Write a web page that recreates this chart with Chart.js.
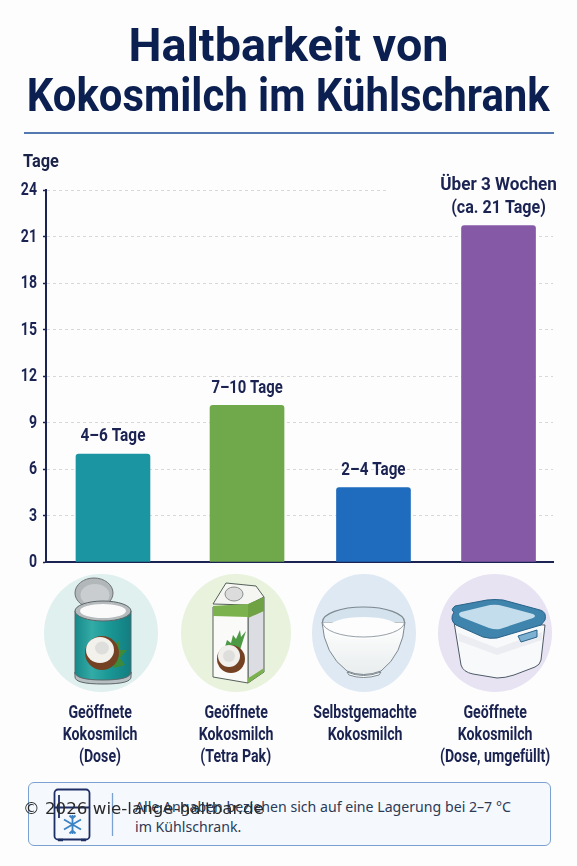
<!DOCTYPE html>
<html lang="de"><head><meta charset="utf-8">
<script src="https://cdn.jsdelivr.net/npm/chart.js@4"></script>
<style>
html,body{margin:0;padding:0;background:#fdfdfe;overflow:hidden}
#stage{position:relative;width:577px;height:866px;overflow:hidden}
canvas{position:absolute;left:0;top:0}
h1{position:absolute;margin:0;left:0;width:577px;text-align:center;font:700 46px/54px Roboto,sans-serif;color:#0b2050;white-space:nowrap}
h1 span{display:inline-block}
#rule{position:absolute;left:24px;top:132px;width:530px;height:2px;background:#5478b0}
#tage{position:absolute;left:23px;top:150px;font:700 19px/22px Roboto,sans-serif;color:#1b2448;transform:scaleX(.86);transform-origin:left top}
.cat{position:absolute;top:701px;width:170px;text-align:center;font:700 17.5px/22px Roboto,sans-serif;color:#1a2350}
.cat span{display:inline-block;transform:scaleX(.81);white-space:nowrap}
#note{position:absolute;left:28px;top:782px;width:523px;height:64px;border:1.3px solid #7aa1cf;border-radius:6px;background:#f5f8fd;box-sizing:border-box}
#noteText{position:absolute;left:135px;top:797px;font:400 14.15px/19.5px "Noto Sans",sans-serif;color:#2c3a56;white-space:pre}
#copy{position:absolute;left:23px;top:797px;font:400 16.7px/22px "DejaVu Sans",sans-serif;color:#2a2a2a;white-space:nowrap}
svg{position:absolute;left:0;top:0}
</style></head><body>
<div id="stage">
<canvas id="c" width="577" height="866"></canvas>
<h1 style="top:18px"><span id="l1">Haltbarkeit von</span></h1>
<h1 style="top:68px"><span id="l2">Kokosmilch im Kühlschrank</span></h1>
<div id="rule"></div>
<div id="tage">Tage</div>
<div id="note"></div>
<svg width="577" height="866" viewBox="0 0 577 866">
 <defs>
  <linearGradient id="tin" x1="0" x2="1" y1="0" y2="0"><stop offset="0" stop-color="#17888a"/><stop offset=".3" stop-color="#33aba6"/><stop offset=".6" stop-color="#1a9896"/><stop offset="1" stop-color="#137d80"/></linearGradient>
  <linearGradient id="bowl" x1="0" x2="0" y1="0" y2="1"><stop offset="0" stop-color="#ffffff"/><stop offset="1" stop-color="#e9edee"/></linearGradient>
 </defs>
 <ellipse cx="101" cy="633" rx="57" ry="59" fill="#dff0ee"/>
 <ellipse cx="236" cy="633" rx="55" ry="59" fill="#e8f2dc"/>
 <ellipse cx="364" cy="633" rx="52" ry="59" fill="#dfe9f3"/>
 <ellipse cx="495" cy="633" rx="57" ry="59" fill="#e7e3f2"/>
 <!-- can -->
 <ellipse cx="94" cy="593" rx="19" ry="15" fill="#b2b7ba" stroke="#6d7275"/>
 <ellipse cx="95" cy="595" rx="14.5" ry="11" fill="#c9cdcf"/>
 <path d="M75 611V673Q75 682 103 682T131 673V611Z" fill="url(#tin)" stroke="#4f6b70"/>
 <path d="M75 672Q75 680 103 680T131 672V677Q131 684 103 684T75 677Z" fill="#b8bfc2" stroke="#5c6669"/>
 <ellipse cx="103" cy="611" rx="28" ry="10" fill="#b5babd" stroke="#5c6669"/>
 <ellipse cx="103" cy="611" rx="23" ry="7" fill="#fafafa"/>
 <path d="M112 646L120 640L119 650L127 650L120 658L125 665L114 668Z" fill="#3d8a3a"/>
 <ellipse cx="102" cy="653" rx="17" ry="17" fill="#744223"/>
 <ellipse cx="100" cy="650" rx="14" ry="13" fill="#f2f1ec"/>
 <ellipse cx="102" cy="648" rx="7" ry="6.5" fill="#dedfdc"/>
 <!-- carton -->
 <path d="M248 605L264 597V672L248 683Z" fill="#dcdde2" stroke="#55605a"/>
 <path d="M213 607L248 605V683L213 677Z" fill="#fafaf8" stroke="#55605a"/>
 <path d="M213 604L226 583L256 586L264 597L248 605Z" fill="#f5f5f2" stroke="#55605a"/>
 <path d="M213 606L248 604V617L213 616Z" fill="#7cb24d"/>
 <path d="M248 604L264 597V611L248 618Z" fill="#6ea243"/>
 <path d="M250 677L264 668V672L248 683V678Z" fill="#7cb24d"/>
 <ellipse cx="234" cy="594" rx="9" ry="7" fill="#dcdcdc" stroke="#8b8f8f"/>
 <path d="M224 650L227 640L231 643L233 635L236 639L240 630L241 637L246 631L240 650Z" fill="#4d9a45"/>
 <circle cx="231" cy="659" r="14" fill="#744223"/>
 <circle cx="229" cy="656" r="11" fill="#f1f0ec"/>
 <ellipse cx="229" cy="656" rx="6" ry="6" fill="#dedfdc"/>
 <!-- bowl -->
 <path d="M322 622Q324 654 347 671Q363 678 381 671Q403 654 405 622Z" fill="url(#bowl)" stroke="#7c8890"/>
 <path d="M322.5 622A41 15 0 0 1 404.5 622" fill="#d3e2ec" stroke="#7c8890" stroke-width="1.2"/>
 <ellipse cx="363.5" cy="628" rx="36" ry="11" fill="#fdfdfd"/>
 <path d="M322.5 622A41 15 0 0 0 404.5 622" fill="none" stroke="#7c8890" stroke-width="1" opacity=".8"/>
 <path d="M347 672Q363 679 381 672L379 675Q363 680 349 675Z" fill="#fff" stroke="#7c8890"/>
 <!-- box -->
 <path d="M454 622L461 665Q463 672 473 674L497 678Q505 678 514 675L535 667Q540 665 541 660L545 625Z" fill="#f8f9fa" stroke="#4d5a66"/>
 <path d="M458 633L497 648L542 632V640L497 655L459 641Z" fill="#ecedf2"/>
 <path d="M454 612Q450 610 455 606L487 600Q495 599 503 600L540 610Q547 612 545 620L541 625L497 638Q490 639 483 637L456 625Q449 620 454 612Z" fill="#3e84ad" stroke="#2a6288"/>
 <path d="M461 612L490 605Q497 604 503 606L533 614Q537 616 533 618L500 629Q495 630 489 628L461 617Q457 614 461 612Z" fill="#c3ddec"/>
 <path d="M518 636L537 630V637L521 642Z" fill="#7db1d1" stroke="#2a6288"/>
 <!-- note icons -->
 <rect x="54.5" y="789.5" width="35" height="50" rx="3.5" fill="none" stroke="#1e2f66" stroke-width="1.8"/>
 <path d="M54.5 807.5H89.5M59 795V818" stroke="#1e2f66" stroke-width="1.8" fill="none"/>
 <path d="M72.5 815V834M64 819.5L81 829.5M81 819.5L64 829.5M69.5 815.5L72.5 818.5L75.5 815.5M69.5 833.5L72.5 830.5L75.5 833.5" stroke="#3b83c4" stroke-width="1.8" fill="none"/>
 <path d="M58 840h5M81 840h5" stroke="#1e2f66" stroke-width="2.4"/>
 <path d="M112.5 793V836" stroke="#7aa1cf" stroke-width="1.3"/>
</svg>
<div id="noteText"></div>
<div id="copy">© 2026 wie-lange-haltbar.de</div>
</div>
<script>
const categories = ["Geöffnete Kokosmilch (Dose)", "Geöffnete Kokosmilch (Tetra Pak)", "Selbstgemachte Kokosmilch", "Geöffnete Kokosmilch (Dose, umgefüllt)"];
const categoryLines = [["Geöffnete","Kokosmilch","(Dose)"],["Geöffnete","Kokosmilch","(Tetra Pak)"],["Selbstgemachte","Kokosmilch"],["Geöffnete","Kokosmilch","(Dose, umgefüllt)"]];
const days = [6.97, 10.1, 4.8, 21.7];
const barLabels = [["4–6 Tage"],["7–10 Tage"],["2–4 Tage"],["Über 3 Wochen","(ca. 21 Tage)"]];
const barColors = ["#1a95a1","#70a94b","#1f6bbd","#8659a6"];
const yTicks = [0,3,6,9,12,15,18,21,24];
const noteLines = "Alle Angaben beziehen sich auf eine Lagerung bei 2–7 °C\nim Kühlschrank.";

const FONT = 'Roboto, sans-serif';
const catCentres = [100, 236, 365, 495];
const barShift = [3.6, 10.9, 10.6, 8.9];
const labelSqueeze = [[.88],[.85],[.87],[.98,.92]];
const navy = "#1b2352";

document.getElementById('noteText').textContent = noteLines;
categoryLines.forEach((lines,i)=>{
  const d=document.createElement('div');d.className='cat';
  d.style.left=(catCentres[i]-85)+'px';
  d.innerHTML=lines.map(l=>'<span>'+l+'</span>').join('<br>');
  document.getElementById('stage').insertBefore(d,document.getElementById('note'));
});

const nudge = {id:'nudge',beforeDatasetsUpdate(chart){
  const s=chart.scales.x;
  if(!s._orig){s._orig=s.getPixelForValue.bind(s);}
  s.getPixelForValue=(v,i)=>s._orig(v,i)+barShift[Math.round(v)];
}};
const labelPlugin = {id:'barLabels',afterDatasetsDraw(chart){
  const {ctx}=chart, meta=chart.getDatasetMeta(0), y=chart.scales.y;
  ctx.save();
  ctx.textBaseline='alphabetic';
  ctx.font='700 17.5px '+FONT;
  ctx.textAlign='center';
  meta.data.forEach((el,i)=>{
    const L=barLabels[i];
    const base=el.y-12.5;
    if(L.length>1){ctx.fillStyle='#fdfdfe';ctx.fillRect(el.x-110,chart.chartArea.top-4,175,8);}
    ctx.fillStyle=navy;
    L.forEach((t,j)=>{
      ctx.save();
      ctx.translate(el.x,base-(L.length-1-j)*23.5);
      ctx.scale(labelSqueeze[i][j],1);
      ctx.fillText(t,0,0);
      ctx.restore();
    });
  });
  ctx.font='700 19px '+FONT;
  ctx.textAlign='right';ctx.textBaseline='middle';ctx.fillStyle=navy;
  y.ticks.forEach(t=>{
    ctx.save();
    ctx.translate(37,y.getPixelForValue(t.value)+.5);
    ctx.scale(.74,1);
    ctx.fillText(String(t.value),0,0);
    ctx.restore();
  });
  ctx.restore();
}};

new Chart(document.getElementById('c'),{
  type:'bar',
  data:{labels:categories,datasets:[{data:days,backgroundColor:barColors,borderRadius:{topLeft:3,topRight:3},borderSkipped:'bottom',barThickness:74}]},
  options:{
    responsive:false,animation:false,
    layout:{padding:{left:0,right:24,top:190,bottom:304}},
    plugins:{legend:{display:false},tooltip:{enabled:false},title:{display:false}},
    scales:{
      x:{offset:true,afterFit(s){s.height=0;},
         ticks:{display:false},
         grid:{display:false},
         border:{display:true,color:navy,width:2}},
      y:{min:0,max:24,afterFit(s){s.width=46;},
         afterBuildTicks(s){s.ticks=yTicks.map(v=>({value:v}));},
         ticks:{display:false},
         grid:{color:'#d8d8d8',tickLength:3,tickColor:navy,tickBorderDash:[],tickWidth:1.5,lineWidth:1},
         border:{display:true,color:navy,width:2,dash:[3,3]}}
    }
  },
  plugins:[nudge,labelPlugin]
});
function fit(id,w){const e=document.getElementById(id);e.style.transform='none';const r=w/e.getBoundingClientRect().width;e.style.transform='scaleX('+r+')';}
fit('l1',320);fit('l2',523);
</script>
</body></html>
